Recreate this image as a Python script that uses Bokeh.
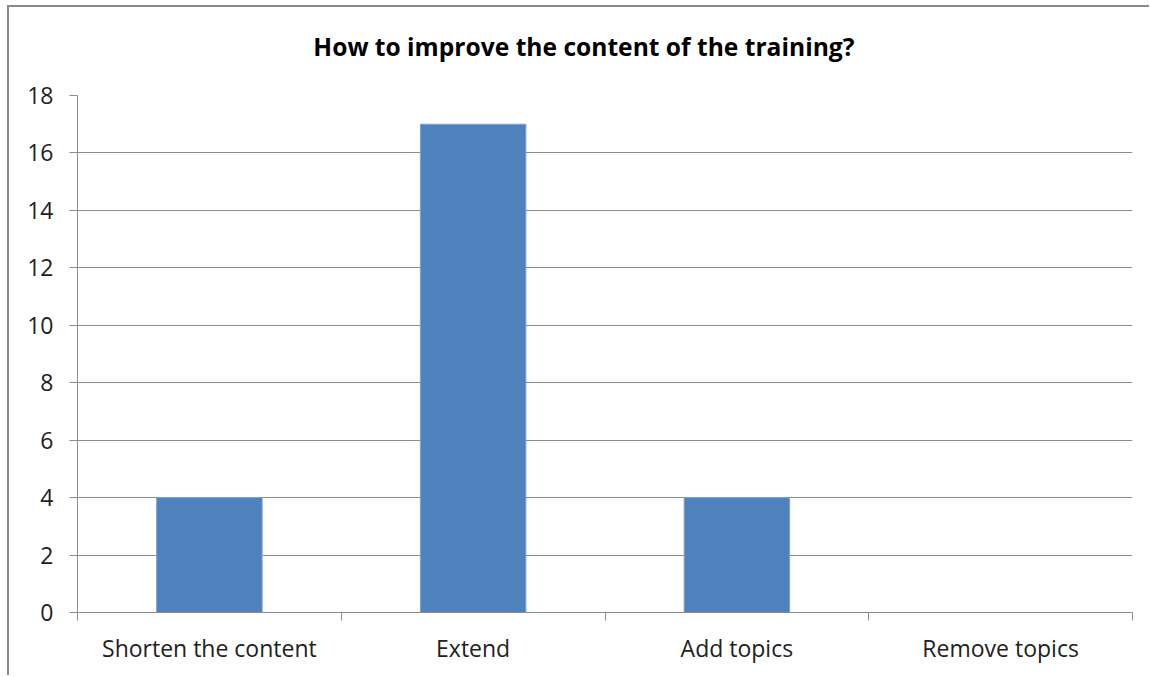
from bokeh.plotting import figure
from bokeh.models import FixedTicker, ColumnDataSource, LinearAxis
from bokeh.embed import file_html
from bokeh.resources import INLINE

# Survey answers
title_text = "How to improve the content of the training?"
categories = ["Shorten the content", "Extend", "Add topics", "Remove topics"]
counts = [4, 17, 4, 0]
y_ticks = [0, 2, 4, 6, 8, 10, 12, 14, 16, 18]

FONT = "Open Sans"
GRID = "#8c8c8c"
BAR = "#4f81bd"
TITLE_X = 1.92  # heading is centred on the whole chart box, not the plot area

centers = [i + 0.5 for i in range(len(categories))]
source = ColumnDataSource(dict(x=centers, top=counts, name=categories))

p = figure(width=1142, height=670, output_backend="svg", toolbar_location=None,
           x_range=(0, len(categories)), y_range=(0, 18),
           min_border_left=68, min_border_right=19, min_border_top=88,
           min_border_bottom=65)
p.styles = {"border-left": "2px solid #8a8a8a", "border-top": "2px solid #8a8a8a",
            "margin-left": "7px", "margin-top": "5px"}

# heading drawn as the single label of a bare axis above the plot
head = LinearAxis(ticker=FixedTicker(ticks=[TITLE_X]),
                  major_label_overrides={TITLE_X: title_text},
                  axis_line_color=None, major_tick_line_color=None,
                  minor_tick_line_color=None, major_tick_out=0, major_tick_in=0,
                  major_label_standoff=33, major_label_text_font=FONT,
                  major_label_text_font_size="24.6px",
                  major_label_text_font_style="bold",
                  major_label_text_color="#000000")
p.add_layout(head, "above")

p.vbar(x="x", top="top", width=0.4, source=source, fill_color=BAR,
       line_color="#7ea3d2", line_width=1)

p.outline_line_color = None
p.background_fill_color = "white"
p.border_fill_color = "white"

# x axis: labels at the category centres, tick marks on the boundaries
xa = p.below[0]
xa.ticker = FixedTicker(ticks=centers, minor_ticks=list(range(len(categories) + 1)))
xa.major_label_overrides = {c: n for c, n in zip(centers, categories)}
xa.major_tick_line_color = None
xa.major_tick_out = 0
xa.major_tick_in = 0
xa.minor_tick_line_color = GRID
xa.minor_tick_out = 8
xa.minor_tick_in = 0
xa.axis_line_color = GRID
xa.major_label_standoff = 11
xa.major_label_text_font = FONT
xa.major_label_text_font_size = "23px"
xa.major_label_text_color = "#222222"

ya = p.yaxis[0]
ya.ticker = FixedTicker(ticks=y_ticks)
ya.minor_tick_line_color = None
ya.major_tick_line_color = GRID
ya.major_tick_out = 8
ya.major_tick_in = 0
ya.axis_line_color = GRID
ya.major_label_standoff = 16
ya.major_label_text_font = FONT
ya.major_label_text_font_size = "23px"
ya.major_label_text_color = "#222222"

p.xgrid.grid_line_color = None
p.ygrid.grid_line_color = GRID
p.ygrid.ticker = FixedTicker(ticks=y_ticks)

open("out.html", "w").write(file_html(p, INLINE))
